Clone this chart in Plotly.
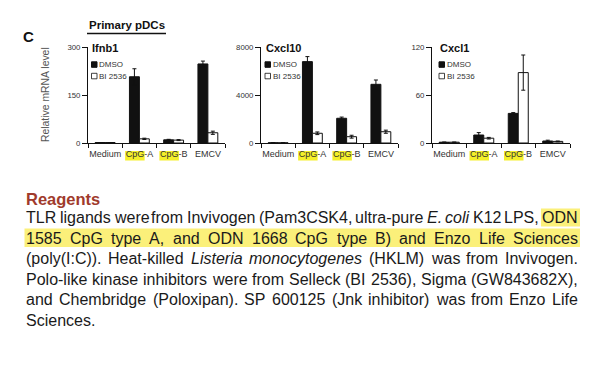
import re
import plotly.graph_objects as go

# ---------------- data ----------------
categories = ["Medium", "CpG-A", "CpG-B", "EMCV"]
genes = ["Ifnb1", "Cxcl10", "Cxcl1"]
series_names = ["DMSO", "BI 2536"]

ifnb1_dmso = [1.5, 207, 10, 247]
ifnb1_dmso_err = [0, 25, 1.5, 9]
ifnb1_bi = [1.5, 13, 9, 32]
ifnb1_bi_err = [0, 2, 1.5, 5]

cxcl10_dmso = [20, 6780, 2060, 4890]
cxcl10_dmso_err = [0, 420, 100, 360]
cxcl10_bi = [15, 810, 525, 940]
cxcl10_bi_err = [0, 110, 120, 130]

cxcl1_dmso = [1, 10, 37, 2.5]
cxcl1_dmso_err = [0, 3, 1, 1]
cxcl1_bi = [1, 6, 88, 2]
cxcl1_bi_err = [0, 1, 22, 0.5]

y_max = [300, 8000, 120]
y_ticks = [[0, 150, 300], [0, 4000, 8000], [0, 60, 120]]

heading = "Reagents"
body_lines = [
    "TLR ligands were from Invivogen (Pam3CSK4, ultra-pure <i>E.</i> <i>coli</i> K12 LPS, ODN",
    "1585 CpG type A, and ODN 1668 CpG type B) and Enzo Life Sciences",
    "(poly(I:C)). Heat-killed <i>Listeria</i> <i>monocytogenes</i> (HKLM) was from Invivogen.",
    "Polo-like kinase inhibitors were from Selleck (BI 2536), Sigma (GW843682X),",
    "and Chembridge (Poloxipan). SP 600125 (Jnk inhibitor) was from Enzo Life",
    "Sciences.",
]

# ---------------- helpers ----------------
W, H = 600, 365
OFF = 8  # page body margin of the browser
FONT = "Liberation Sans, Arial, Helvetica, sans-serif"


def px(x):
    return (x - OFF) / W


def py(y):
    return 1 - (y - OFF) / H


_HW = {' ': 278, '(': 333, ')': 333, ',': 278, '-': 333, '.': 278, ':': 278}
for d in "0123456789":
    _HW[d] = 556
_HW.update(dict(zip("ABCDEFGHIJKLMNOPQRSTUVWXYZ",
                    [667, 667, 722, 722, 667, 611, 778, 722, 278, 500, 667, 556, 833,
                     722, 778, 667, 778, 722, 667, 611, 722, 667, 944, 667, 667, 611])))
_HW.update(dict(zip("abcdefghijklmnopqrstuvwxyz",
                    [556, 556, 500, 556, 556, 278, 556, 556, 222, 222, 500, 222, 833,
                     556, 556, 556, 556, 333, 500, 278, 556, 500, 722, 500, 500, 500])))


def text_w(s, size):
    s = re.sub(r"<[^>]+>", "", s)
    return sum(_HW.get(c, 556) for c in s) * size / 1000.0


series = [
    (ifnb1_dmso, ifnb1_dmso_err, ifnb1_bi, ifnb1_bi_err),
    (cxcl10_dmso, cxcl10_dmso_err, cxcl10_bi, cxcl10_bi_err),
    (cxcl1_dmso, cxcl1_dmso_err, cxcl1_bi, cxcl1_bi_err),
]

x_dom_px = [(88, 225), (261, 398), (432, 570)]
y_dom = [py(143), py(47)]
title_x = [91.5, 265.5, 439.5]
legend_x = [91.5, 265.0, 439.0]

fig = go.Figure()
shapes = []
annotations = []

for i, (dm, dme, bi, bie) in enumerate(series):
    ax = "" if i == 0 else str(i + 1)
    fig.add_trace(go.Bar(
        x=categories, y=dm, name=series_names[0], xaxis="x" + ax, yaxis="y" + ax,
        marker=dict(color="#111111", line=dict(color="#111111", width=1)),
        error_y=dict(type="data", array=dme, color="#111111", thickness=1, width=2),
        showlegend=False,
    ))
    fig.add_trace(go.Bar(
        x=categories, y=bi, name=series_names[1], xaxis="x" + ax, yaxis="y" + ax,
        marker=dict(color="#ffffff", line=dict(color="#111111", width=1)),
        error_y=dict(type="data", array=bie, color="#111111", thickness=1, width=2),
        showlegend=False,
    ))
    x0, x1 = x_dom_px[i]
    fig.update_layout(**{
        "xaxis" + ax: dict(
            domain=[px(x0), px(x1)], anchor="y" + ax, type="category",
            showline=True, linecolor="#111111", linewidth=1,
            ticks="outside", ticklen=4, tickwidth=1, tickcolor="#111111",
            tickson="boundaries", showgrid=False, zeroline=False, tickangle=0,
            ticklabelstandoff=2,
            tickfont=dict(family=FONT, size=9, color="#333333"),
            range=[-0.5, 3.5], fixedrange=True, automargin=False,
        ),
        "yaxis" + ax: dict(
            domain=y_dom, anchor="x" + ax, range=[0, y_max[i]],
            showline=True, linecolor="#111111", linewidth=1,
            ticks="outside", ticklen=5, tickwidth=1, tickcolor="#111111",
            tickvals=y_ticks[i], ticktext=[str(v) for v in y_ticks[i]],
            showgrid=False, zeroline=False,
            tickfont=dict(family=FONT, size=7.8, color="#333333"),
            fixedrange=True, automargin=False,
        ),
    })
    # panel title
    annotations.append(dict(
        x=px(title_x[i]), y=py(48), xref="paper", yref="paper", xanchor="left", yanchor="middle",
        text="<b>%s</b>" % genes[i], showarrow=False, borderpad=0, borderwidth=0,
        font=dict(family=FONT, size=11, color="#111111")))
    # legend
    lx = legend_x[i]
    shapes.append(dict(type="rect", xref="paper", yref="paper", x0=px(lx), x1=px(lx + 5.5),
                       y0=py(67.3), y1=py(61.8), fillcolor="#111111", line=dict(color="#111111", width=1)))
    shapes.append(dict(type="rect", xref="paper", yref="paper", x0=px(lx), x1=px(lx + 5.5),
                       y0=py(78.8), y1=py(73.3), fillcolor="#ffffff", line=dict(color="#111111", width=0.8)))
    for j, yy in enumerate([64.5, 76]):
        annotations.append(dict(
            x=px(lx + 7.5), y=py(yy), xref="paper", yref="paper", xanchor="left", yanchor="middle",
            text=series_names[j], showarrow=False, borderpad=0, borderwidth=0,
            font=dict(family=FONT, size=8, color="#333333")))
    # yellow highlight behind "CpG" in tick labels
    cw = (x1 - x0) / len(categories)
    for k, cat in enumerate(categories):
        if cat.startswith("CpG"):
            c = x0 + (k + 0.5) * cw
            left = c - text_w(cat, 9) / 2
            shapes.append(dict(type="rect", xref="paper", yref="paper", layer="below",
                               x0=px(left - 0.5), x1=px(left + text_w("CpG", 9) + 0.5),
                               y0=py(160.5), y1=py(151), fillcolor="#f4ef2a", line=dict(width=0)))

# figure-level labels
annotations.append(dict(x=px(28.5), y=py(36), xref="paper", yref="paper", xanchor="center", yanchor="middle",
                        text="<b>C</b>", showarrow=False, font=dict(family=FONT, size=15, color="#111111")))
annotations.append(dict(x=px(126.5), y=py(25), xref="paper", yref="paper", xanchor="center", yanchor="middle",
                        text="<b>Primary pDCs</b>", showarrow=False,
                        font=dict(family=FONT, size=11.5, color="#111111")))
shapes.append(dict(type="line", xref="paper", yref="paper", x0=px(87), x1=px(166), y0=py(33.5), y1=py(33.5),
                   line=dict(color="#111111", width=1.5)))
annotations.append(dict(x=px(45), y=py(95), xref="paper", yref="paper", xanchor="center", yanchor="middle",
                        text="Relative mRNA level", textangle=-90, showarrow=False,
                        font=dict(family=FONT, size=10.4, color="#555555")))

# ---------------- text paragraph ----------------
TXT_L, TXT_R = 26, 578
FS = 16
annotations.append(dict(x=px(TXT_L), y=py(199), xref="paper", yref="paper", xanchor="left", yanchor="middle",
                        text="<b>%s</b>" % heading, showarrow=False, borderpad=0, borderwidth=0,
                        font=dict(family=FONT, size=16.5, color="#a03a2c")))

line_y0, line_step = 217.5, 20.5
for li, line in enumerate(body_lines):
    yc = line_y0 + li * line_step
    words = line.split(" ")
    widths = [text_w(w, FS) for w in words]
    if li < len(body_lines) - 1 and len(words) > 1:
        gap = (TXT_R - TXT_L - sum(widths)) / (len(words) - 1)
    else:
        gap = text_w(" ", FS)
    xs = []
    x = TXT_L
    for w, ww in zip(words, widths):
        xs.append(x)
        x += ww + gap
    if li == 0:
        shapes.append(dict(type="rect", xref="paper", yref="paper", layer="below",
                           x0=px(xs[-1] - 1.5), x1=px(TXT_R + 2), y0=py(yc + 9), y1=py(yc - 9),
                           fillcolor="#fbf07a", line=dict(width=0)))
    if li == 1:
        shapes.append(dict(type="rect", xref="paper", yref="paper", layer="below",
                           x0=px(TXT_L - 1.5), x1=px(TXT_R + 2), y0=py(yc + 9), y1=py(yc - 9.5),
                           fillcolor="#fbf07a", line=dict(width=0)))
    for w, xx in zip(words, xs):
        annotations.append(dict(x=px(xx), y=py(yc), xref="paper", yref="paper", xanchor="left",
                                yanchor="middle", text=w, showarrow=False, borderpad=0, borderwidth=0,
                                font=dict(family=FONT, size=FS, color="#1a1a1a")))

fig.update_layout(
    width=W, height=H, margin=dict(l=0, r=0, t=0, b=0),
    paper_bgcolor="#ffffff", plot_bgcolor="rgba(0,0,0,0)",
    barmode="group", bargap=0.42, bargroupgap=0.0,
    shapes=shapes, annotations=annotations, showlegend=False,
    font=dict(family=FONT),
)

fig.write_html("out.html")
